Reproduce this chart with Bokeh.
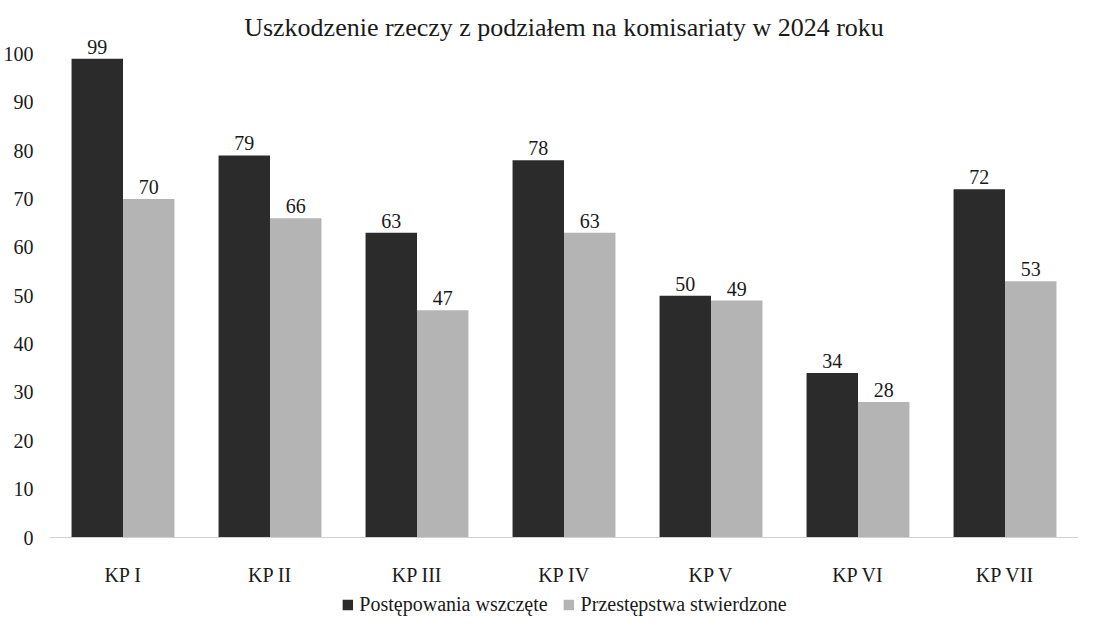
from bokeh.plotting import figure
from bokeh.layouts import column
from bokeh.models import ColumnDataSource, FixedTicker, Legend, LegendItem, LabelSet, Label, Range1d
from bokeh.transform import dodge
from bokeh.embed import file_html
from bokeh.resources import INLINE

categories = ["KP I", "KP II", "KP III", "KP IV", "KP V", "KP VI", "KP VII"]
wszczete = [99, 79, 63, 78, 50, 34, 72]
stwierdzone = [70, 66, 47, 63, 49, 28, 53]
series_names = ["Postępowania wszczęte", "Przestępstwa stwierdzone"]
y_ticks = [0, 10, 20, 30, 40, 50, 60, 70, 80, 90, 100]
title_text = "Uszkodzenie rzeczy z podziałem na komisariaty w 2024 roku"

FONT = "Liberation Serif"
DARK = "#2b2b2b"
LIGHT = "#b4b4b4"
TXT = "#1a1a1a"

src = ColumnDataSource(dict(cat=categories, a=wszczete, b=stwierdzone,
                            a_txt=[str(v) for v in wszczete],
                            b_txt=[str(v) for v in stwierdzone]))

W, H = 1078, 590
BL, BT, BB = 49, 5, 53
p = figure(x_range=categories, y_range=(0, 110), width=W, height=H,
           output_backend="svg", toolbar_location=None,
           min_border_left=BL, min_border_right=0, min_border_top=BT,
           min_border_bottom=BB)

frame_w = W - BL
frame_h = H - BT - BB
p.add_layout(Label(x=frame_w / 2, y=frame_h - 22, x_units="screen", y_units="screen",
                   text=title_text, text_align="center", text_baseline="middle",
                   text_font=FONT, text_font_size="26px", text_color=TXT))

w = 0.35
p.vbar(x=dodge("cat", -w / 2, range=p.x_range), top="a", width=w, source=src,
       fill_color=DARK, line_color=None)
p.vbar(x=dodge("cat", w / 2, range=p.x_range), top="b", width=w, source=src,
       fill_color=LIGHT, line_color=None)

for col, off in (("a", -w / 2), ("b", w / 2)):
    lbl = LabelSet(x=dodge("cat", off, range=p.x_range), y=col, text=col + "_txt",
                   source=src, text_align="center", text_baseline="bottom",
                   y_offset=5, text_font=FONT, text_font_size="20px",
                   text_color=TXT)
    p.add_layout(lbl)

p.yaxis.ticker = FixedTicker(ticks=y_ticks)
p.yaxis.axis_line_color = None
p.yaxis.major_tick_line_color = None
p.yaxis.minor_tick_line_color = None
p.yaxis.major_label_text_font = FONT
p.yaxis.major_label_text_font_size = "20px"
p.yaxis.major_label_text_color = TXT
p.yaxis.major_label_standoff = 10

p.xaxis.axis_line_color = "#d0d0d0"
p.xaxis.major_tick_line_color = None
p.xaxis.minor_tick_line_color = None
p.xaxis.major_label_text_font = FONT
p.xaxis.major_label_text_font_size = "20px"
p.xaxis.major_label_text_color = TXT
p.xaxis.major_label_standoff = 20

p.xgrid.grid_line_color = None
p.ygrid.grid_line_color = None
p.outline_line_color = None
p.x_range.range_padding = 0

# legend strip below the chart
lg = figure(width=W, height=26, output_backend="svg", toolbar_location=None,
            x_range=Range1d(0, 1), y_range=Range1d(0, 1),
            min_border=0, min_border_left=0, min_border_right=0,
            min_border_top=0, min_border_bottom=0)
lg.axis.visible = False
lg.grid.visible = False
lg.outline_line_color = None
off_src = ColumnDataSource(dict(x=[10], top=[10]))
da = lg.vbar(x="x", top="top", width=0.1, source=off_src, fill_color=DARK, line_color=None)
db = lg.vbar(x="x", top="top", width=0.1, source=off_src, fill_color=LIGHT, line_color=None)
legend = Legend(items=[LegendItem(label=series_names[0], renderers=[da]),
                       LegendItem(label=series_names[1], renderers=[db])],
                orientation="horizontal", location="bottom_center",
                label_text_font=FONT, label_text_font_size="20px",
                label_text_color=TXT, glyph_width=13, glyph_height=13,
                label_standoff=6, spacing=14, border_line_color=None,
                background_fill_alpha=0, margin=0, padding=0)
lg.add_layout(legend, "center")

layout = column(p, lg, spacing=0)
open("out.html", "w").write(file_html(layout, INLINE))
